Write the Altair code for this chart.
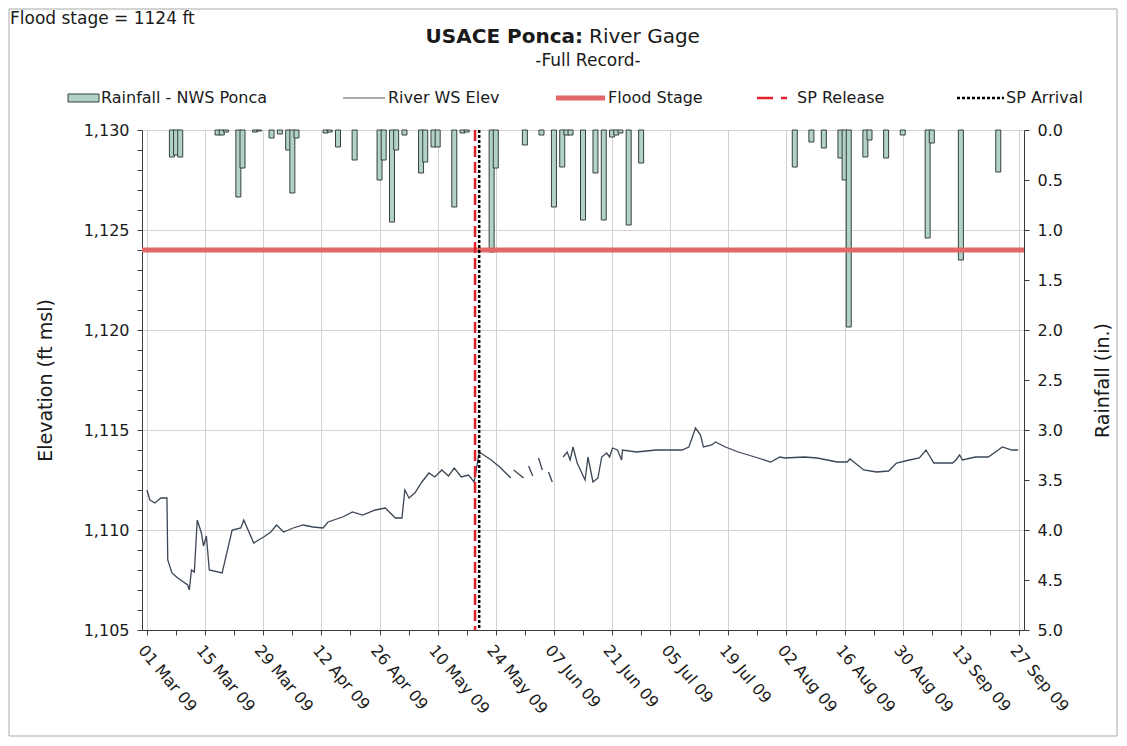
import altair as alt
import pandas as pd

START = pd.Timestamp("2009-03-01")

# ---------------- data ----------------
rain_dates = [
    "2009-03-07", "2009-03-08", "2009-03-09", "2009-03-18", "2009-03-19", "2009-03-20",
    "2009-03-23", "2009-03-24", "2009-03-27", "2009-03-28", "2009-03-31", "2009-04-02",
    "2009-04-04", "2009-04-05", "2009-04-06", "2009-04-13", "2009-04-14", "2009-04-16",
    "2009-04-20", "2009-04-26", "2009-04-27", "2009-04-29", "2009-04-30", "2009-05-02",
    "2009-05-06", "2009-05-07", "2009-05-09", "2009-05-10", "2009-05-14", "2009-05-16",
    "2009-05-17", "2009-05-23", "2009-05-24", "2009-05-31", "2009-06-04", "2009-06-07",
    "2009-06-09", "2009-06-10", "2009-06-11", "2009-06-14", "2009-06-17", "2009-06-19",
    "2009-06-21", "2009-06-22", "2009-06-23", "2009-06-25", "2009-06-28", "2009-08-04",
    "2009-08-08", "2009-08-11", "2009-08-15", "2009-08-16", "2009-08-17", "2009-08-21",
    "2009-08-22", "2009-08-26", "2009-08-30", "2009-09-05", "2009-09-06", "2009-09-13",
    "2009-09-22",
]
rain_in = [
    0.27, 0.25, 0.27, 0.05, 0.05, 0.02,
    0.67, 0.38, 0.02, 0.01, 0.08, 0.04,
    0.20, 0.63, 0.08, 0.03, 0.02, 0.17,
    0.30, 0.50, 0.30, 0.92, 0.20, 0.05,
    0.43, 0.32, 0.17, 0.17, 0.77, 0.03,
    0.02, 1.22, 0.38, 0.15, 0.05, 0.77,
    0.37, 0.05, 0.05, 0.90, 0.43, 0.90,
    0.07, 0.05, 0.03, 0.95, 0.33, 0.37,
    0.12, 0.18, 0.28, 0.50, 1.97, 0.27,
    0.10, 0.28, 0.05, 1.08, 0.13, 1.30,
    0.42,
]

# river water-surface elevation: days since 01 Mar 09, None marks a gap in the record
river_day = [
    0, 0.7, 1.9, 3.3, 4.8, 5.0, 6.0, 7.4, 9.8, 10.2, 10.7, 11.4, 12.1, 13.1, 13.6, 14.3,
    15.0, 18.1, 20.5, 22.6, 23.3, 25.7, 28.1, 29.8, 31.2, 32.9, 35.2, 37.6, 40.0, 42.4,
    43.6, 47.1, 49.5, 51.9, 55.0, 57.4, 59.8, 61.4, 62.1, 63.1, 64.5, 66.2, 67.9, 69.3,
    71.0, 72.6, 74.0, 75.7, 77.4, 78.8, 80.0, 82.9, 85.2, 87.6,
    None, 88.3, 89.5, 90.7, None, 91.9, 92.9, None, 94.3, 95.2, None, 96.7, 97.6, None,
    100.2, 101.2, 101.9, 102.6, 103.6, 105.5, 106.2, 107.4, 108.6, 109.5, 110.7, 111.4,
    112.1, 113.3, 114.3, 114.5, 117.9, 122.6, 128.8, 130.5, 132.1, 133.3, 134.0, 136.0,
    136.9, 139.3, 142.4, 146.4, 150.2, 152.4, 153.6, 158.3, 161.4, 166.2, 168.6, 169.3,
    172.6, 175.7, 178.6, 180.5, 183.6, 186.0, 187.6, 189.5, 194.0, 194.8, 195.7, 196.4,
    199.5, 202.6, 205.0, 206.0, 208.3, 209.8,
]
river_elev = [
    1112.0, 1111.5, 1111.35, 1111.6, 1111.6, 1108.5, 1107.85, 1107.6, 1107.25, 1107.0,
    1108.0, 1107.9, 1110.5, 1109.85, 1109.2, 1109.7, 1108.0, 1107.85, 1110.0, 1110.1,
    1110.5, 1109.35, 1109.65, 1109.9, 1110.25, 1109.9, 1110.1, 1110.25, 1110.15, 1110.1,
    1110.4, 1110.65, 1110.9, 1110.75, 1111.0, 1111.1, 1110.6, 1110.6, 1112.0, 1111.6,
    1111.85, 1112.4, 1112.85, 1112.65, 1113.0, 1112.7, 1113.1, 1112.65, 1112.75, 1112.4,
    1113.9, 1113.5, 1113.1, 1112.6,
    None, 1113.0, 1112.8, 1112.6, None, 1113.2, 1112.7, None, 1113.6, 1113.0, None,
    1112.9, 1112.4, None,
    1113.65, 1113.9, 1113.5, 1114.15, 1113.35, 1112.5, 1113.65, 1112.4, 1112.6, 1113.65,
    1113.85, 1113.65, 1114.1, 1114.0, 1113.5, 1114.0, 1113.9, 1114.0, 1114.0, 1114.15,
    1115.1, 1114.75, 1114.15, 1114.25, 1114.4, 1114.15, 1113.9, 1113.65, 1113.4, 1113.65,
    1113.6, 1113.65, 1113.6, 1113.4, 1113.4, 1113.55, 1113.0, 1112.9, 1112.95, 1113.35,
    1113.5, 1113.6, 1114.0, 1113.35, 1113.35, 1113.5, 1113.75, 1113.5, 1113.65, 1113.65,
    1114.0, 1114.15, 1114.0, 1114.0,
]

tick_labels = [
    "01 Mar 09", "15 Mar 09", "29 Mar 09", "12 Apr 09", "26 Apr 09", "10 May 09",
    "24 May 09", "07 Jun 09", "21 Jun 09", "05 Jul 09", "19 Jul 09", "02 Aug 09",
    "16 Aug 09", "30 Aug 09", "13 Sep 09", "27 Sep 09",
]

flood_stage = 1124
sp_release_date = "2009-05-19"
sp_arrival_date = "2009-05-20"

legend_labels = ["Rainfall - NWS Ponca", "River WS Elev", "Flood Stage", "SP Release", "SP Arrival"]

# ---------------- frames ----------------
rain_df = pd.DataFrame({
    "day": (pd.to_datetime(rain_dates) - START).days,
    "rain": rain_in,
})

river_df = pd.DataFrame({"day": river_day, "elev": river_elev})
river_df["seg"] = river_df["elev"].isna().cumsum()
river_df = river_df.dropna().reset_index(drop=True)

sp_df = pd.DataFrame({
    "name": ["SP Release", "SP Arrival"],
    "day": (pd.to_datetime([sp_release_date, sp_arrival_date]) - START).days,
})
flood_df = pd.DataFrame({"elev": [flood_stage]})

FONT = "DejaVu Sans"
TXT = "#1a1a1a"
W, H = 882, 500

label_js = "[" + ",".join("'" + t + "'" for t in tick_labels) + "]"
n_days = 14 * (len(tick_labels) - 1)

x_axis = alt.Axis(
    values=list(range(0, n_days + 1, 7)),
    labelExpr=f"datum.value % 14 === 0 ? {label_js}[datum.value / 14] : ''",
    gridOpacity={"condition": {"test": "datum.value % 14 === 0", "value": 1}, "value": 0},
    grid=True, gridColor="#d2d2d2", gridWidth=1,
    domainColor="#3a3a3a", tickColor="#3a3a3a", tickSize=5,
    labelAngle=50, labelAlign="left", labelBaseline="top", labelPadding=7,
    labelFont=FONT, labelFontSize=16, labelColor=TXT, labelOverlap=False,
    labelBound=False, labelFlush=False, title=None,
)
x_scale = alt.Scale(domain=[0, n_days], nice=False, zero=False)


def xenc(field="day"):
    return alt.X(f"{field}:Q", scale=x_scale, axis=x_axis)


y_axis = alt.Axis(
    values=list(range(1105, 1131)),
    labelExpr="datum.value % 5 === 0 ? format(datum.value, ',') : ''",
    gridOpacity={"condition": {"test": "datum.value % 5 === 0", "value": 1}, "value": 0},
    grid=True, gridColor="#d2d2d2",
    domainColor="#3a3a3a", tickColor="#3a3a3a", tickSize=5, labelPadding=8,
    labelFont=FONT, labelFontSize=16, labelColor=TXT,
    title="Elevation (ft msl)", titleFont=FONT, titleFontSize=19, titleFontWeight="normal",
    titleColor=TXT, titlePadding=28,
)
y_scale = alt.Scale(domain=[1105, 1130], nice=False, zero=False)

rain_axis = alt.Axis(
    orient="right", values=[i * 0.5 for i in range(11)], format=".1f", grid=False,
    domainColor="#3a3a3a", tickColor="#3a3a3a", tickSize=5, labelPadding=8,
    labelFont=FONT, labelFontSize=16, labelColor=TXT,
    title="Rainfall (in.)", titleFont=FONT, titleFontSize=19, titleFontWeight="normal",
    titleColor=TXT, titlePadding=50, titleAngle=270,
)
rain_scale = alt.Scale(domain=[0, 5], reverse=True, nice=False, zero=True)

# ---------------- marks ----------------
bars = alt.Chart(rain_df).mark_bar(
    size=5, fill="#b3d2c6", stroke="#34413c", strokeWidth=1
).encode(
    x=xenc(),
    y=alt.Y("rain:Q", scale=rain_scale, axis=rain_axis, stack=None),
)

flood = alt.Chart(flood_df).mark_rule(color="#e26868", strokeWidth=5).encode(
    y=alt.Y("elev:Q", scale=y_scale, axis=y_axis),
)

river = alt.Chart(river_df).mark_line(color="#3b4654", strokeWidth=1.3).encode(
    x=xenc(),
    y=alt.Y("elev:Q", scale=y_scale, axis=y_axis),
    detail="seg:N",
    order="day:Q",
)

elev_layer = alt.layer(flood, river)

release = alt.Chart(sp_df[sp_df.name == "SP Release"]).mark_rule(
    color="#e3202a", strokeWidth=2.5, strokeDash=[11, 5]
).encode(x=xenc())
arrival = alt.Chart(sp_df[sp_df.name == "SP Arrival"]).mark_rule(
    color="#000000", strokeWidth=2.5, strokeDash=[3, 2]
).encode(x=xenc())

main = alt.layer(bars, elev_layer).resolve_scale(y="independent")

# ---------------- annotations ----------------
one = pd.DataFrame({"k": [0]})


def text(t, x, y, size, align="left", weight="normal", baseline="alphabetic"):
    return alt.Chart(one).mark_text(
        text=t, font=FONT, fontSize=size, fontWeight=weight, color=TXT,
        align=align, baseline=baseline,
    ).encode(x=alt.value(x), y=alt.value(y))


title1 = text("USACE Ponca:", 441, -87, 20, align="right", weight="bold")
title2 = text("River Gage", 447, -87, 20)
subtitle = text("-Full Record-", 446, -64, 17, align="center")
note = text("Flood stage = 1124 ft", -132, -106, 17)

LY = -32
leg_rain = alt.Chart(one).mark_rect(fill="#b3d2c6", stroke="#34413c", strokeWidth=1).encode(
    x=alt.value(-74), x2=alt.value(-43), y=alt.value(LY - 4), y2=alt.value(LY + 4))
leg_river = alt.Chart(one).mark_rule(color="#8a929a", strokeWidth=1.5).encode(
    x=alt.value(201), x2=alt.value(243), y=alt.value(LY))
leg_flood = alt.Chart(one).mark_rule(color="#e26868", strokeWidth=5).encode(
    x=alt.value(414), x2=alt.value(463), y=alt.value(LY))
leg_rel = alt.Chart(one).mark_rule(color="#e3202a", strokeWidth=2.5, strokeDash=[16, 8, 6, 20]).encode(
    x=alt.value(615), x2=alt.value(653), y=alt.value(LY))
leg_arr = alt.Chart(one).mark_rule(color="#000000", strokeWidth=2.5, strokeDash=[3, 2]).encode(
    x=alt.value(815), x2=alt.value(862), y=alt.value(LY))

leg_texts = [
    text(legend_labels[0], -41, LY, 16, baseline="middle"),
    text(legend_labels[1], 246, LY, 16, baseline="middle"),
    text(legend_labels[2], 466, LY, 16, baseline="middle"),
    text(legend_labels[3], 655, LY, 16, baseline="middle"),
    text(legend_labels[4], 864, LY, 16, baseline="middle"),
]

frame = alt.Chart(one).mark_rect(filled=False, stroke="#a8a8a8", strokeWidth=1).encode(
    x=alt.value(-133), x2=alt.value(975), y=alt.value(-121), y2=alt.value(606))

chart = alt.layer(
    main, release, arrival,
    title1, title2, subtitle, note,
    leg_rain, leg_river, leg_flood, leg_rel, leg_arr, *leg_texts,
    frame,
).properties(
    width=W, height=H,
    autosize="none",
    padding={"left": 134, "top": 122, "right": 95, "bottom": 108},
    background="white",
).configure_view(stroke=None)

chart.save("out.html", embed_options={"renderer": "svg", "actions": False})
